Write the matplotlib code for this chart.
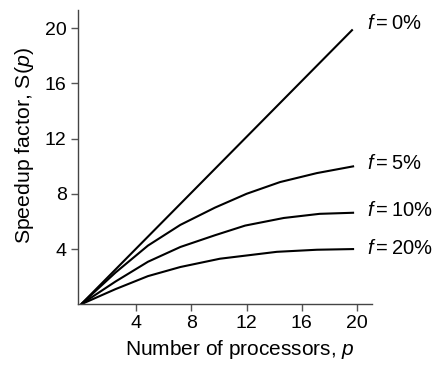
import matplotlib
matplotlib.use("Agg")
import matplotlib.pyplot as plt

plt.rcParams['font.family'] = ['Liberation Sans', 'DejaVu Sans']
plt.rcParams['mathtext.fontset'] = 'custom'
plt.rcParams['mathtext.rm'] = 'Liberation Sans'
plt.rcParams['mathtext.it'] = 'Liberation Sans:italic'

# values
p_f0 = [0, 19.7]
s_f0 = [0, 19.9]

p_f5 = [0, 2.5, 4.85, 7.2, 9.71, 12.0, 14.43, 17.1, 19.8]
s_f5 = [0, 2.3, 4.25, 5.75, 7.0, 8.0, 8.85, 9.5, 10.0]

p_f10 = [0, 2.5, 4.85, 7.2, 9.71, 11.9, 14.7, 17.3, 19.8]
s_f10 = [0, 1.65, 3.08, 4.15, 5.0, 5.7, 6.25, 6.55, 6.63]

p_f20 = [0, 2.5, 4.85, 7.2, 10.07, 14.2, 17.1, 19.8]
s_f20 = [0, 1.1, 2.04, 2.7, 3.3, 3.8, 3.95, 4.0]

labels = [r'$f = 0\%$', r'$f = 5\%$', r'$f = 10\%$', r'$f = 20\%$']
label_y = [20.36, 10.22, 6.82, 4.07]

xticks = [4, 8, 12, 16, 20]
yticks = [4, 8, 12, 16, 20]

fig = plt.figure(figsize=(4.41, 3.65), dpi=100)
ax = fig.add_axes([0.176, 0.1663, 0.667, 0.806])

for p, s in [(p_f0, s_f0), (p_f5, s_f5), (p_f10, s_f10), (p_f20, s_f20)]:
    ax.plot(p, s, color='black', lw=1.5, solid_capstyle='butt')

for lab, y in zip(labels, label_y):
    ax.text(20.7, y, lab, ha='left', va='center', fontsize=14.5,
            color='black', clip_on=False)

ax.set_xlim(-0.25, 21.08)
ax.set_ylim(0, 21.3)
ax.set_xticks(xticks)
ax.set_yticks(yticks)
ax.tick_params(direction='out', length=5, width=1, color='#555555',
               labelsize=14, labelcolor='black', pad=3)
for side in ['top', 'right']:
    ax.spines[side].set_visible(False)
for side in ['left', 'bottom']:
    ax.spines[side].set_color('#444444')
    ax.spines[side].set_linewidth(1)

ax.set_xlabel(r'Number of processors, $p$', fontsize=15)
ax.xaxis.set_label_coords(0.552, -0.115)
ax.set_ylabel(r'Speedup factor, S($p$)', fontsize=15.3)
ax.yaxis.set_label_coords(-0.14, 0.538)

plt.savefig('out.png', dpi=100)
